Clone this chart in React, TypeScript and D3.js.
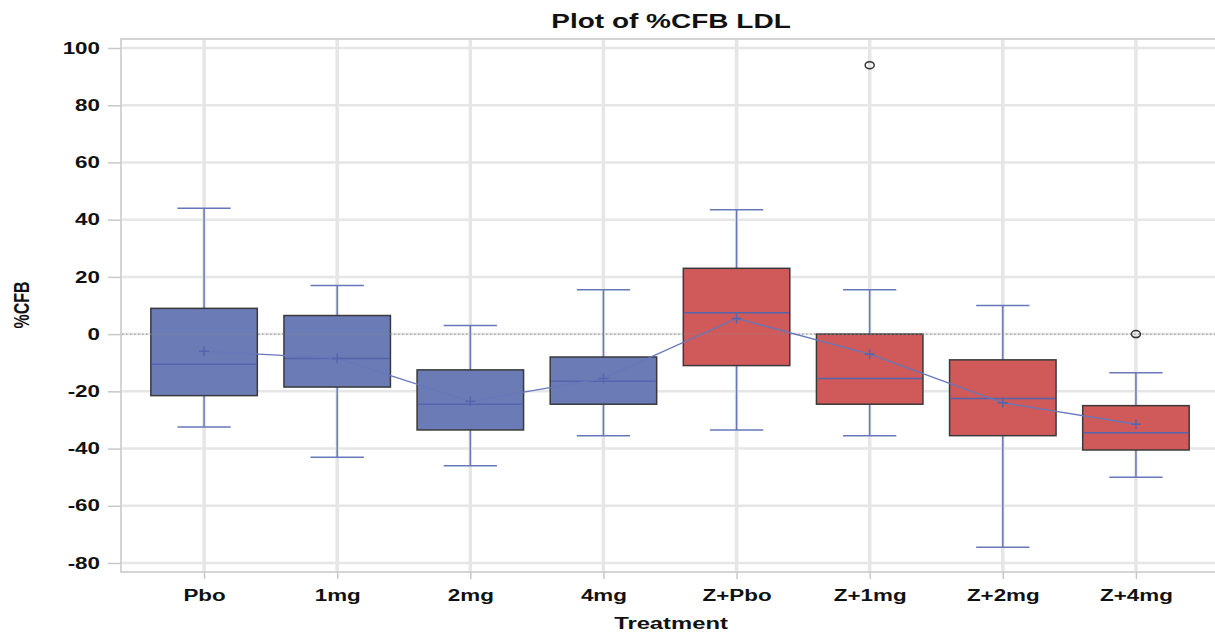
import { useRef, useEffect } from 'react';
import * as d3 from 'd3';

const categories = ['Pbo', '1mg', '2mg', '4mg', 'Z+Pbo', 'Z+1mg', 'Z+2mg', 'Z+4mg'];
const groups = ['single', 'single', 'single', 'single', 'combo', 'combo', 'combo', 'combo'];
const whiskerHigh = [44, 17, 3, 15.5, 43.5, 15.5, 10, -13.5];
const q3 = [9, 6.5, -12.5, -8, 23, 0, -9, -25];
const median = [-10.5, -8.5, -24.5, -16.5, 7.5, -15.5, -22.5, -34.5];
const mean = [-6, -8.5, -23.5, -15.5, 5.5, -7, -24, -31.5];
const q1 = [-21.5, -18.5, -33.5, -24.5, -11, -24.5, -35.5, -40.5];
const whiskerLow = [-32.5, -43, -46, -35.5, -33.5, -35.5, -74.5, -50];
const outlierCats = ['Z+1mg', 'Z+4mg'];
const outlierValues = [94, 0];
const yTicks = [-80, -60, -40, -20, 0, 20, 40, 60, 80, 100];

const SX = 1.4; // horizontal stretch of the text in the original

export default function App() {
  const ref = useRef<SVGSVGElement>(null);

  useEffect(() => {
    const svg = d3.select(ref.current);
    svg.selectAll('*').remove();

    const left = 121, right = 1219, top = 39, bottom = 572;
    const font = '"Liberation Sans", Arial, sans-serif';

    const x = d3.scalePoint<string>()
      .domain(categories)
      .range([left, right])
      .padding(0.624);
    const boxW = x.step() * 0.8;

    const y = d3.scaleLinear().domain([-80, 100]).range([563, 48]);

    const color = d3.scaleOrdinal<string>()
      .domain(['single', 'combo'])
      .range(['#6a7bb5', '#d05a59']);

    const lineColor = '#6677bb';
    const data = categories.map((c, i) => ({
      c, g: groups[i], hi: whiskerHigh[i], q3: q3[i], med: median[i],
      mean: mean[i], q1: q1[i], lo: whiskerLow[i],
    }));

    // frame
    svg.append('rect')
      .attr('x', left).attr('y', top)
      .attr('width', right - left).attr('height', bottom - top)
      .attr('fill', 'none').attr('stroke', '#d4d4d4').attr('stroke-width', 2);

    // grid
    svg.append('g').selectAll('line').data(yTicks).join('line')
      .attr('x1', left + 1).attr('x2', right)
      .attr('y1', d => y(d)).attr('y2', d => y(d))
      .attr('stroke', '#e6e6e6').attr('stroke-width', 2.5);
    svg.append('g').selectAll('line').data(categories).join('line')
      .attr('x1', d => x(d)!).attr('x2', d => x(d)!)
      .attr('y1', top + 1).attr('y2', bottom - 1)
      .attr('stroke', '#e6e6e6').attr('stroke-width', 3.5);

    // y axis
    const yAxis = svg.append('g')
      .attr('transform', `translate(${left},0)`)
      .call(d3.axisLeft(y).tickValues(yTicks).tickSize(13).tickPadding(0).tickFormat(d => String(d)));
    yAxis.select('.domain').remove();
    yAxis.selectAll('.tick line').attr('stroke', '#c8c8c8').attr('stroke-width', 1.5);
    yAxis.selectAll('.tick text')
      .attr('x', null)
      .attr('transform', `translate(-21,0) scale(${SX},1)`)
      .attr('font-family', font)
      .attr('font-weight', 'bold')
      .attr('font-size', 16)
      .attr('fill', '#111');

    // x axis
    const xAxis = svg.append('g')
      .attr('transform', `translate(0,${bottom})`)
      .call(d3.axisBottom(x).tickSize(7).tickPadding(0));
    xAxis.select('.domain').remove();
    xAxis.selectAll('.tick line').attr('stroke', '#c8c8c8').attr('stroke-width', 1.5);
    xAxis.selectAll('.tick text')
      .attr('y', null).attr('dy', null)
      .attr('transform', `translate(0,29) scale(${SX},1)`)
      .attr('font-family', font)
      .attr('font-weight', 'bold')
      .attr('font-size', 16)
      .attr('fill', '#111');

    const boxes = svg.append('g').selectAll('g').data(data).join('g');

    // whiskers
    boxes.append('line')
      .attr('x1', d => x(d.c)!).attr('x2', d => x(d.c)!)
      .attr('y1', d => y(d.hi)).attr('y2', d => y(d.lo))
      .attr('stroke', lineColor).attr('stroke-width', 1.5);
    boxes.selectAll('line.cap').data(d => [d.hi, d.lo].map(v => ({ c: d.c, v }))).join('line')
      .attr('class', 'cap')
      .attr('x1', d => x(d.c)! - boxW / 4).attr('x2', d => x(d.c)! + boxW / 4)
      .attr('y1', d => y(d.v)).attr('y2', d => y(d.v))
      .attr('stroke', lineColor).attr('stroke-width', 1.5);

    // boxes
    boxes.append('rect')
      .attr('x', d => x(d.c)! - boxW / 2)
      .attr('y', d => y(d.q3))
      .attr('width', boxW)
      .attr('height', d => y(d.q1) - y(d.q3))
      .attr('fill', d => color(d.g))
      .attr('stroke', '#3a3a3a').attr('stroke-width', 1.5);
    boxes.append('line')
      .attr('x1', d => x(d.c)! - boxW / 2 + 1).attr('x2', d => x(d.c)! + boxW / 2 - 1)
      .attr('y1', d => y(d.med)).attr('y2', d => y(d.med))
      .attr('stroke', '#5565ad').attr('stroke-width', 1.5);

    // reference line at 0
    svg.append('line')
      .attr('x1', left + 1).attr('x2', right)
      .attr('y1', y(0)).attr('y2', y(0))
      .attr('stroke', '#8a8a8a').attr('stroke-width', 1)
      .attr('stroke-dasharray', '1.5,2.5');

    // mean line and markers
    svg.append('path')
      .datum(data)
      .attr('d', d3.line<any>().x(d => x(d.c)!).y(d => y(d.mean)))
      .attr('fill', 'none').attr('stroke', lineColor).attr('stroke-width', 1.3);
    svg.append('g').selectAll('path').data(data).join('path')
      .attr('d', d => {
        const cx = x(d.c)!, cy = y(d.mean), s = 5;
        return `M${cx - s},${cy}H${cx + s}M${cx},${cy - s}V${cy + s}`;
      })
      .attr('stroke', '#5565ad').attr('stroke-width', 1.5).attr('fill', 'none');

    // outliers
    svg.append('g').selectAll('ellipse').data(outlierCats.map((c, i) => ({ c, v: outlierValues[i] }))).join('ellipse')
      .attr('cx', d => x(d.c)!).attr('cy', d => y(d.v))
      .attr('rx', 4.5).attr('ry', 3.5)
      .attr('fill', 'none').attr('stroke', '#333').attr('stroke-width', 1.5);

    // titles
    svg.append('text')
      .attr('transform', `translate(671,28) scale(${SX},1)`)
      .attr('text-anchor', 'middle')
      .attr('font-family', font).attr('font-weight', 'bold').attr('font-size', 20)
      .attr('fill', '#111')
      .text('Plot of %CFB LDL');
    svg.append('text')
      .attr('transform', `translate(671,629) scale(${SX},1)`)
      .attr('text-anchor', 'middle')
      .attr('font-family', font).attr('font-weight', 'bold').attr('font-size', 17)
      .attr('fill', '#111')
      .text('Treatment');
    svg.append('text')
      .attr('transform', `translate(29,305) scale(${SX},1) rotate(-90)`)
      .attr('text-anchor', 'middle')
      .attr('font-family', font).attr('font-weight', 'bold').attr('font-size', 16)
      .attr('fill', '#111')
      .text('%CFB');
  }, []);

  return (
    <svg
      ref={ref}
      width={1215}
      height={632}
      style={{ position: 'absolute', left: 0, top: 0, background: '#fff' }}
    />
  );
}
